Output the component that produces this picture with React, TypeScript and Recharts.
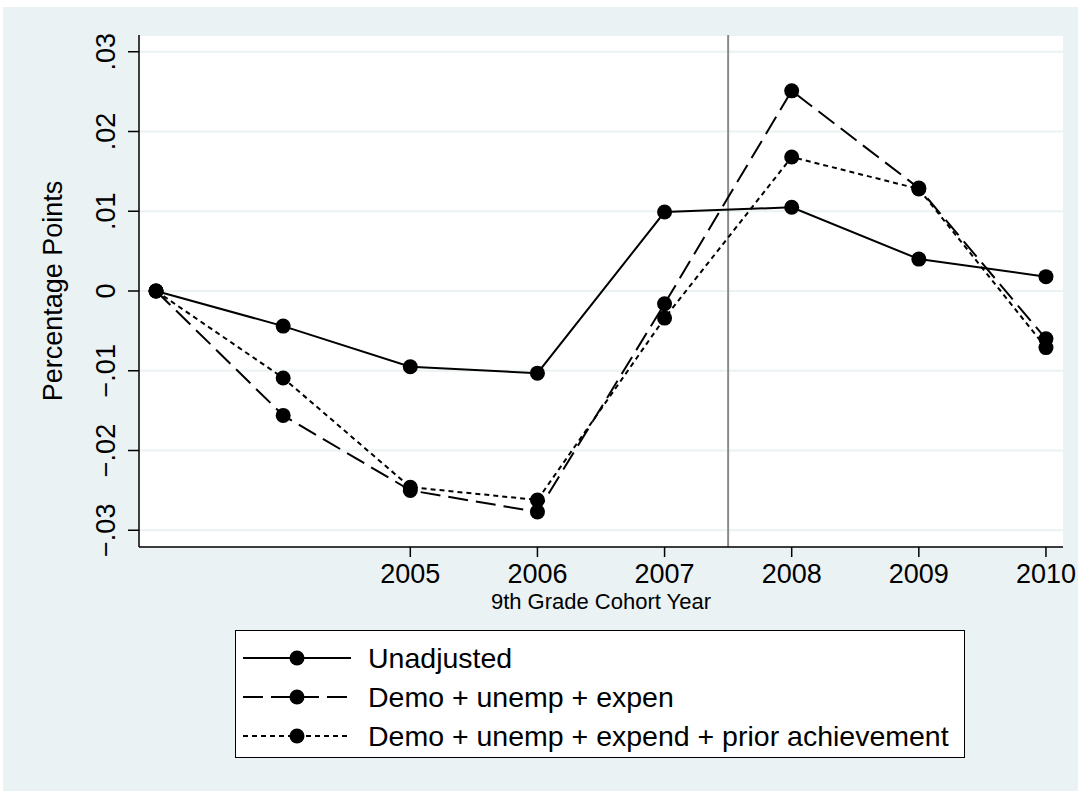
import React from "react";
import {
  LineChart,
  Line,
  XAxis,
  YAxis,
  CartesianGrid,
  ReferenceLine,
} from "recharts";

const years = [2003, 2004, 2005, 2006, 2007, 2008, 2009, 2010];
const unadjusted = [0, -0.0044, -0.0095, -0.0103, 0.0099, 0.0105, 0.004, 0.0018];
const demoUnempExpen = [0, -0.0156, -0.025, -0.0277, -0.0016, 0.0251, 0.0129, -0.006];
const priorAchievement = [0, -0.0109, -0.0246, -0.0262, -0.0034, 0.0168, 0.0128, -0.0071];

const xTicks = [2005, 2006, 2007, 2008, 2009, 2010];
const yTicks = [-0.03, -0.02, -0.01, 0, 0.01, 0.02, 0.03];
const cutoffYear = 2007.5;

const seriesNames = [
  "Unadjusted",
  "Demo + unemp + expen",
  "Demo + unemp + expend + prior achievement",
];

const data = years.map((year, i) => ({
  year,
  unadjusted: unadjusted[i],
  demo: demoUnempExpen[i],
  prior: priorAchievement[i],
}));

const FONT = '"Liberation Sans", Arial, Helvetica, sans-serif';
const BG = "#eaf2f3";
const dashes = [undefined, "20 8", "5 4"];

function fmtY(v: number) {
  if (Math.abs(v) < 1e-9) return "0";
  const s = Math.abs(v).toFixed(2).replace(/^0/, "");
  return v < 0 ? "\u2212" + s : s;
}

function XTick(props: any) {
  const { x, y, payload } = props;
  return (
    <text x={x} y={y + 26} textAnchor="middle" fontSize={27} fontFamily={FONT} fill="#000">
      {payload.value}
    </text>
  );
}

function YTick(props: any) {
  const { x, y, payload } = props;
  const bx = x - 13;
  return (
    <text
      x={bx}
      y={y}
      transform={`rotate(-90, ${bx}, ${y})`}
      textAnchor="middle"
      fontSize={27}
      fontFamily={FONT}
      fill="#000"
    >
      {fmtY(payload.value)}
    </text>
  );
}

function Dot(props: any) {
  const { cx, cy } = props;
  if (cx == null || cy == null) return null;
  return <circle cx={cx} cy={cy} r={7.5} fill="#000" stroke="none" />;
}

function LegendSample({ dash }: { dash?: string }) {
  return (
    <svg width={110} height={20} style={{ display: "block" }}>
      <line x1={0} y1={10} x2={108} y2={10} stroke="#000" strokeWidth={2} strokeDasharray={dash} />
      <circle cx={54} cy={10} r={7.5} fill="#000" />
    </svg>
  );
}

export default function App() {
  return (
    <div
      style={{
        position: "fixed",
        left: 0,
        top: 0,
        width: 1078,
        height: 791,
        background: "#fff",
        overflow: "hidden",
        fontFamily: FONT,
      }}
    >
      <div style={{ position: "absolute", left: 3, top: 7, right: 0, bottom: 0, background: BG }} />
      <div style={{ position: "absolute", left: 0, top: 0 }}>
        <LineChart
          width={1078}
          height={791}
          data={data}
          margin={{ top: 35, right: 15, bottom: 174, left: 0 }}
        >
          <CartesianGrid
            vertical={false}
            horizontal={true}
            stroke={BG}
            strokeWidth={2}
            fill="#fff"
          />
          <XAxis
            type="number"
            dataKey="year"
            domain={[2002.866, 2010.134]}
            ticks={xTicks}
            allowDataOverflow
            height={70}
            tickSize={10}
            tickMargin={0}
            tick={<XTick />}
            stroke="#000"
            strokeWidth={1.5}
            tickLine={{ stroke: "#000", strokeWidth: 1.5 }}
            label={{
              content: (p: any) => {
                const vb = p.viewBox || { x: 139, y: 547, width: 924 };
                return (
                  <text
                    x={vb.x + vb.width / 2}
                    y={vb.y + 62}
                    textAnchor="middle"
                    fontSize={22}
                    fontFamily={FONT}
                    fill="#000"
                  >
                    9th Grade Cohort Year
                  </text>
                );
              },
            }}
          />
          <YAxis
            type="number"
            domain={[-0.0321, 0.0321]}
            ticks={yTicks}
            allowDataOverflow
            width={139}
            tickSize={11}
            tickMargin={0}
            tick={<YTick />}
            stroke="#000"
            strokeWidth={1.5}
            tickLine={{ stroke: "#000", strokeWidth: 1.5 }}
            label={{
              content: (p: any) => {
                const vb = p.viewBox || { x: 0, y: 35, width: 139, height: 512 };
                const lx = vb.x + 62;
                const ly = vb.y + vb.height / 2;
                return (
                  <text
                    x={lx}
                    y={ly}
                    transform={`rotate(-90, ${lx}, ${ly})`}
                    textAnchor="middle"
                    fontSize={27}
                    fontFamily={FONT}
                    fill="#000"
                  >
                    Percentage Points
                  </text>
                );
              },
            }}
          />
          <ReferenceLine x={cutoffYear} stroke="#8a8a8a" strokeWidth={2} />
          <Line
            type="linear"
            dataKey="unadjusted"
            stroke="#000"
            strokeWidth={2}
            dot={<Dot />}
            activeDot={false}
            isAnimationActive={false}
          />
          <Line
            type="linear"
            dataKey="demo"
            stroke="#000"
            strokeWidth={2}
            strokeDasharray={dashes[1]}
            dot={<Dot />}
            activeDot={false}
            isAnimationActive={false}
          />
          <Line
            type="linear"
            dataKey="prior"
            stroke="#000"
            strokeWidth={2}
            strokeDasharray={dashes[2]}
            dot={<Dot />}
            activeDot={false}
            isAnimationActive={false}
          />
        </LineChart>
      </div>
      <div
        style={{
          position: "absolute",
          left: 235,
          top: 630,
          width: 728,
          height: 126,
          border: "1.5px solid #000",
          background: "#fff",
        }}
      >
        {seriesNames.map((name, i) => (
          <div
            key={name}
            style={{
              position: "absolute",
              left: 7,
              top: 12 + i * 39,
              height: 30,
              display: "flex",
              alignItems: "center",
              whiteSpace: "nowrap",
            }}
          >
            <LegendSample dash={dashes[i]} />
            <span style={{ marginLeft: 15, fontSize: 28.5, color: "#000", lineHeight: "30px" }}>{name}</span>
          </div>
        ))}
      </div>
    </div>
  );
}
